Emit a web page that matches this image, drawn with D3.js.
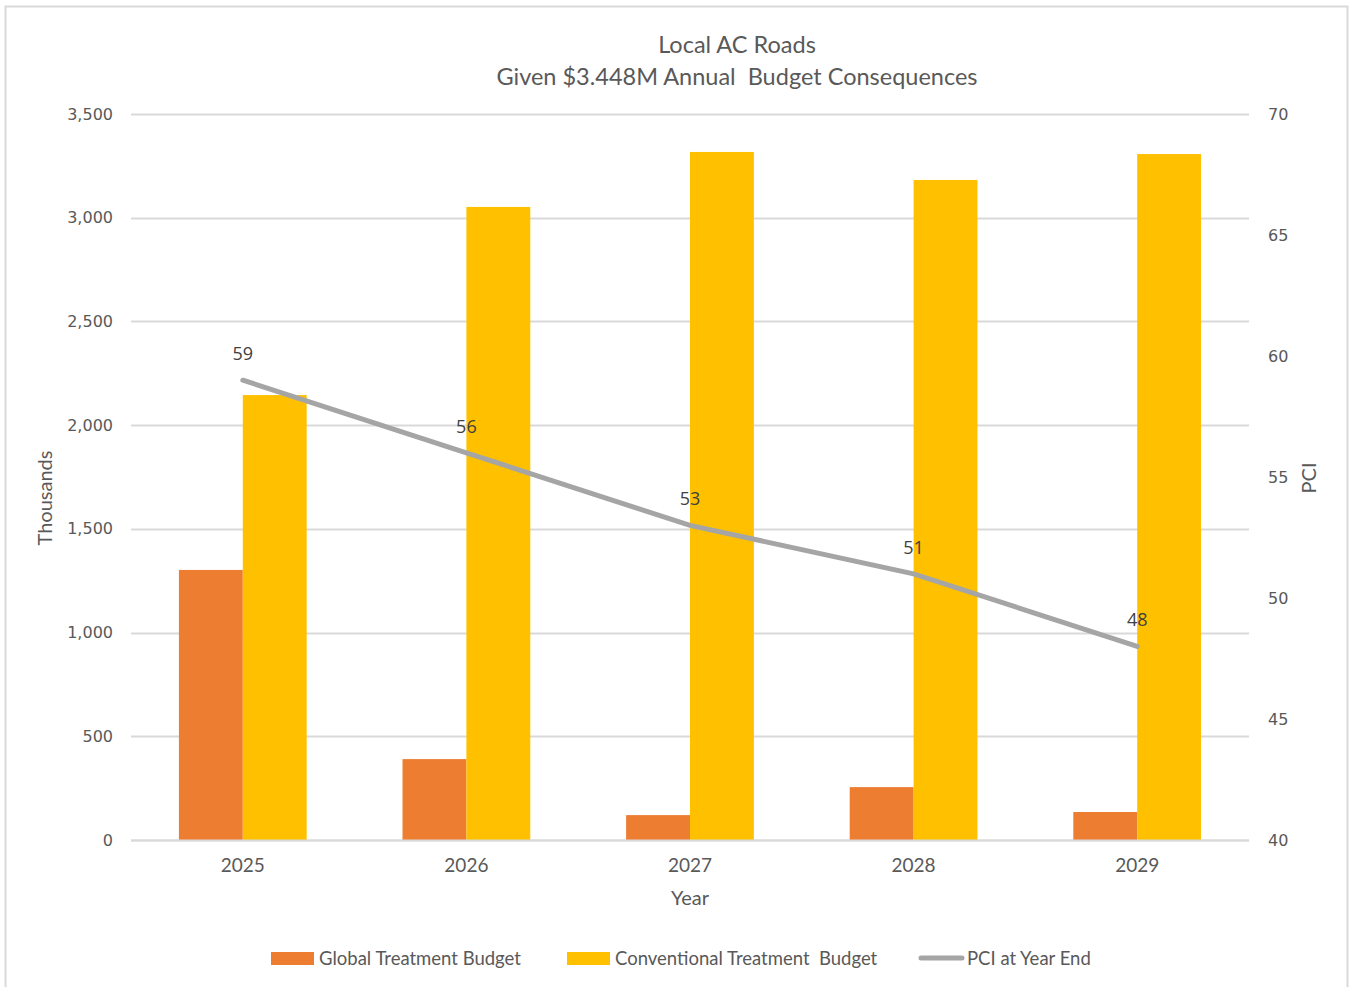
<!DOCTYPE html>
<html>
<head>
<meta charset="utf-8">
<script src="https://cdn.jsdelivr.net/npm/d3@7"></script>
<style>
  html, body { margin: 0; padding: 0; background: #fff; }
  svg { display: block; }
  .narrow { font-family: Lato, "Open Sans", Arial, sans-serif; }
</style>
</head>
<body>
<svg id="chart" width="1350" height="987"></svg>
<script>
// Budget by year (thousands of dollars) and PCI at year end
const years = ["2025", "2026", "2027", "2028", "2029"];
const globalBudget = [1302, 390, 120, 255, 135];
const conventionalBudget = [2145, 3052, 3317, 3182, 3307];
const pciYearEnd = [59, 56, 53, 51, 48];
const leftTicks = [0, 500, 1000, 1500, 2000, 2500, 3000, 3500];
const rightTicks = [40, 45, 50, 55, 60, 65, 70];

const colors = { global: "#ED7D31", conventional: "#FFC000", pci: "#A5A5A5" };
const textGray = "#595959";

const svg = d3.select("#chart");
const plot = { left: 131, right: 1249, top: 114, bottom: 840 };

// chart frame
svg.append("rect")
  .attr("x", 5.5).attr("y", 6.5).attr("width", 1342).attr("height", 990)
  .attr("fill", "none").attr("stroke", "#d9d9d9").attr("stroke-width", 2);

const x = d3.scaleBand().domain(years)
  .range([plot.left, plot.right])
  .paddingInner(0.4286).paddingOuter(0.2143);
const yL = d3.scaleLinear().domain([0, 3500]).range([plot.bottom, plot.top]);
const yR = d3.scaleLinear().domain([40, 70]).range([plot.bottom, plot.top]);

// gridlines
svg.append("g").selectAll("line").data(leftTicks).join("line")
  .attr("x1", plot.left).attr("x2", plot.right)
  .attr("y1", d => Math.round(yL(d)) + 0.5).attr("y2", d => Math.round(yL(d)) + 0.5)
  .attr("stroke", "#d9d9d9").attr("stroke-width", 2);

// left axis
const axL = svg.append("g")
  .attr("transform", `translate(${plot.left},0)`)
  .call(d3.axisLeft(yL).tickValues(leftTicks).tickFormat(d3.format(",")).tickSize(0).tickPadding(18));
axL.select(".domain").remove();
axL.selectAll("text").attr("fill", textGray).style("font-size", "16px")
  .style("font-family", "'DejaVu Sans', Verdana, sans-serif");

// right axis
const axR = svg.append("g")
  .attr("transform", `translate(${plot.right},0)`)
  .call(d3.axisRight(yR).tickValues(rightTicks).tickSize(0).tickPadding(19));
axR.select(".domain").remove();
axR.selectAll("text").attr("fill", textGray).style("font-size", "16px")
  .style("font-family", "'DejaVu Sans', Verdana, sans-serif");

// bars
const half = x.bandwidth() / 2;
svg.append("g").selectAll("rect").data(years).join("rect")
  .attr("x", d => x(d)).attr("width", half)
  .attr("y", (d, i) => yL(globalBudget[i]))
  .attr("height", (d, i) => yL(0) - yL(globalBudget[i]))
  .attr("fill", colors.global);
svg.append("g").selectAll("rect").data(years).join("rect")
  .attr("x", d => x(d) + half).attr("width", half)
  .attr("y", (d, i) => yL(conventionalBudget[i]))
  .attr("height", (d, i) => yL(0) - yL(conventionalBudget[i]))
  .attr("fill", colors.conventional);

// baseline
svg.append("line")
  .attr("x1", plot.left).attr("x2", plot.right)
  .attr("y1", plot.bottom + 0.5).attr("y2", plot.bottom + 0.5)
  .attr("stroke", "#d9d9d9").attr("stroke-width", 2);

// PCI line
const cx = d => x(d) + x.bandwidth() / 2;
const line = d3.line().x(d => cx(d[0])).y(d => yR(d[1]));
svg.append("path")
  .datum(years.map((y, i) => [y, pciYearEnd[i]]))
  .attr("d", line)
  .attr("fill", "none").attr("stroke", colors.pci)
  .attr("stroke-width", 5).attr("stroke-linecap", "round");

// PCI value labels
svg.append("g").selectAll("text").data(years).join("text")
  .attr("x", d => cx(d))
  .attr("y", (d, i) => yR(pciYearEnd[i]) - 20)
  .attr("text-anchor", "middle")
  .attr("fill", "#404040")
  .style("font-family", "'Open Sans', Arial, sans-serif")
  .style("font-size", "18px")
  .text((d, i) => pciYearEnd[i]);

// category labels
svg.append("g").selectAll("text").data(years).join("text")
  .attr("class", "narrow")
  .attr("x", d => cx(d)).attr("y", 872)
  .attr("text-anchor", "middle").attr("fill", textGray)
  .style("font-size", "19px")
  .text(d => d);

// titles
const title = svg.append("text").attr("class", "narrow")
  .attr("text-anchor", "middle").attr("fill", textGray)
  .style("font-size", "23.5px").attr("xml:space", "preserve");
title.append("tspan").attr("x", 737).attr("y", 53).text("Local AC Roads");
title.append("tspan").attr("x", 737).attr("y", 85).text("Given $3.448M Annual  Budget Consequences");

// axis titles
svg.append("text").attr("class", "narrow")
  .attr("x", 690).attr("y", 905).attr("text-anchor", "middle")
  .attr("fill", textGray).style("font-size", "20px").text("Year");
svg.append("text").attr("class", "narrow")
  .attr("transform", "translate(52,498) rotate(-90)").attr("text-anchor", "middle")
  .attr("fill", textGray).style("font-size", "20px").text("Thousands");
svg.append("text").attr("class", "narrow")
  .attr("transform", "translate(1316,478) rotate(-90)").attr("text-anchor", "middle")
  .attr("fill", textGray).style("font-size", "20px").text("PCI");

// legend
const legend = [
  { label: "Global Treatment Budget", color: colors.global, type: "rect", x: 271 },
  { label: "Conventional Treatment  Budget", color: colors.conventional, type: "rect", x: 567 },
  { label: "PCI at Year End", color: colors.pci, type: "line", x: 919 }
];
const lg = svg.append("g").selectAll("g").data(legend).join("g")
  .attr("transform", d => `translate(${d.x},958)`);
lg.filter(d => d.type === "rect").append("rect")
  .attr("x", 0).attr("y", -6).attr("width", 43).attr("height", 13)
  .attr("fill", d => d.color);
lg.filter(d => d.type === "line").append("line")
  .attr("x1", 2).attr("x2", 43).attr("y1", 0).attr("y2", 0)
  .attr("stroke", d => d.color).attr("stroke-width", 5).attr("stroke-linecap", "round");
lg.append("text").attr("class", "narrow")
  .attr("x", 48).attr("y", 7)
  .attr("fill", textGray).style("font-size", "18.5px")
  .attr("xml:space", "preserve")
  .text(d => d.label);
</script>
</body>
</html>
